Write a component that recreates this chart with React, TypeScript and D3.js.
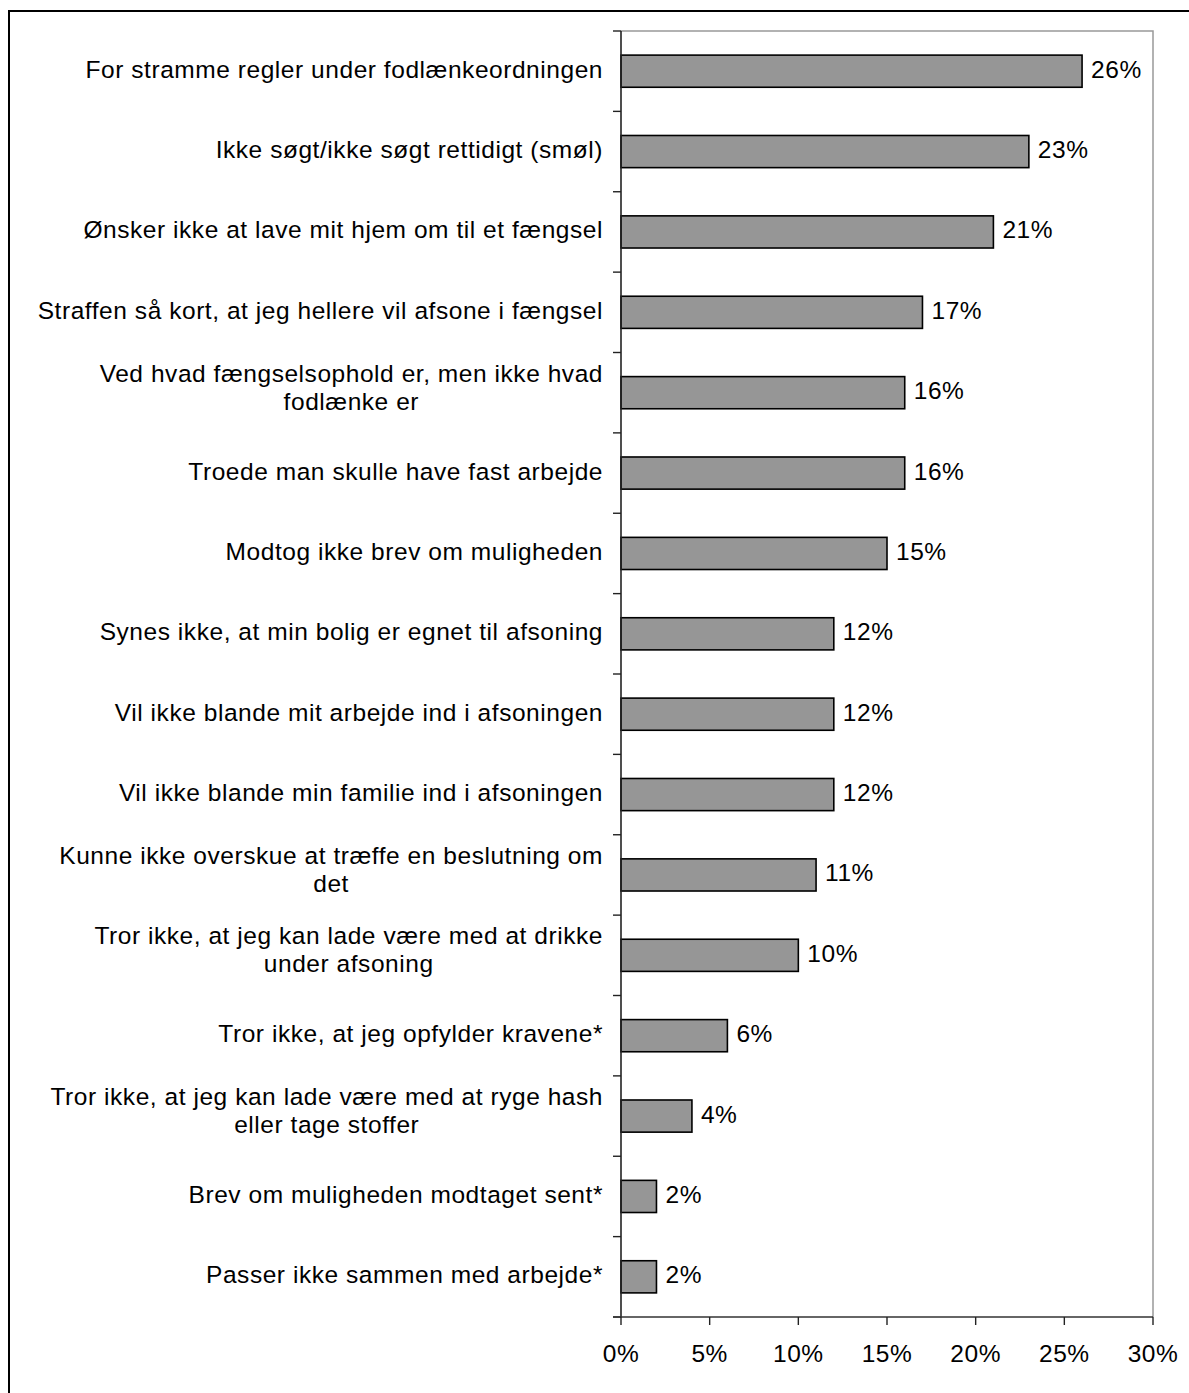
import React, { useEffect, useRef } from "react";
import * as d3 from "d3";

const categories: string[][] = [
  ["For stramme regler under fodlænkeordningen"],
  ["Ikke søgt/ikke søgt rettidigt (smøl)"],
  ["Ønsker ikke at lave mit hjem om til et fængsel"],
  ["Straffen så kort, at jeg hellere vil afsone i fængsel"],
  ["Ved hvad fængselsophold er, men ikke hvad", "fodlænke er"],
  ["Troede man skulle have fast arbejde"],
  ["Modtog ikke brev om muligheden"],
  ["Synes ikke, at min bolig er egnet til afsoning"],
  ["Vil ikke blande mit arbejde ind i afsoningen"],
  ["Vil ikke blande min familie ind i afsoningen"],
  ["Kunne ikke overskue at træffe en beslutning om", "det"],
  ["Tror ikke, at jeg kan lade være med at drikke", "under afsoning"],
  ["Tror ikke, at jeg opfylder kravene*"],
  ["Tror ikke, at jeg kan lade være med at ryge hash", "eller tage stoffer"],
  ["Brev om muligheden modtaget sent*"],
  ["Passer ikke sammen med arbejde*"],
];

const values: number[] = [26, 23, 21, 17, 16, 16, 15, 12, 12, 12, 11, 10, 6, 4, 2, 2];

const xTicks: number[] = [0, 5, 10, 15, 20, 25, 30];

const W = 1189;
const H = 1393;
const FONT = "'Liberation Sans', Arial, Helvetica, sans-serif";
const FS = 24.5;
const LS = 0.55;

export default function App() {
  const ref = useRef<SVGSVGElement | null>(null);

  useEffect(() => {
    const svg = d3.select(ref.current);
    svg.selectAll("*").remove();

    const left = 621;
    const right = 1153;
    const top = 31;
    const bottom = 1317;

    const x = d3.scaleLinear().domain([0, 30]).range([left, right]);
    const idx = categories.map((_, i) => String(i));
    const y = d3.scaleBand().domain(idx).range([top, bottom]).paddingInner(0.6).paddingOuter(0.3);
    const yb = d3.scaleBand().domain(idx).range([top, bottom]);

    svg.append("rect").attr("x", 0).attr("y", 0).attr("width", W).attr("height", H).attr("fill", "white");

    // outer frame
    svg
      .append("rect")
      .attr("x", 9)
      .attr("y", 11)
      .attr("width", W + 20)
      .attr("height", H + 20)
      .attr("fill", "none")
      .attr("stroke", "black")
      .attr("stroke-width", 2);

    // plot border (top, right)
    svg
      .append("path")
      .attr("d", `M${left},${top}H${right}V${bottom}`)
      .attr("fill", "none")
      .attr("stroke", "#999")
      .attr("stroke-width", 1.5);

    // bars
    svg
      .append("g")
      .selectAll("rect")
      .data(values)
      .join("rect")
      .attr("x", x(0))
      .attr("y", (_, i) => y(String(i)) as number)
      .attr("width", (d) => x(d) - x(0))
      .attr("height", y.bandwidth())
      .attr("fill", "#969696")
      .attr("stroke", "black")
      .attr("stroke-width", 1.6);

    // value labels
    svg
      .append("g")
      .selectAll("text")
      .data(values)
      .join("text")
      .attr("x", (d) => x(d) + 9)
      .attr("y", (_, i) => (yb(String(i)) as number) + yb.bandwidth() / 2 + 6.5)
      .attr("font-family", FONT)
      .attr("font-size", FS)
      .attr("letter-spacing", LS)
      .attr("fill", "black")
      .text((d) => `${d}%`);

    // y axis line + ticks
    svg
      .append("line")
      .attr("x1", left)
      .attr("x2", left)
      .attr("y1", top)
      .attr("y2", bottom)
      .attr("stroke", "#222")
      .attr("stroke-width", 1.6);
    const yTickPos = idx.map((k) => yb(k) as number).concat([bottom]);
    svg
      .append("g")
      .selectAll("line")
      .data(yTickPos)
      .join("line")
      .attr("x1", left - 8)
      .attr("x2", left)
      .attr("y1", (d) => d)
      .attr("y2", (d) => d)
      .attr("stroke", "#222")
      .attr("stroke-width", 1.4);

    // x axis
    svg
      .append("line")
      .attr("x1", left - 8)
      .attr("x2", right)
      .attr("y1", bottom)
      .attr("y2", bottom)
      .attr("stroke", "#333")
      .attr("stroke-width", 1.6);
    svg
      .append("g")
      .selectAll("line")
      .data(xTicks)
      .join("line")
      .attr("x1", (d) => x(d))
      .attr("x2", (d) => x(d))
      .attr("y1", bottom)
      .attr("y2", bottom + 8)
      .attr("stroke", "#222")
      .attr("stroke-width", 1.4);
    svg
      .append("g")
      .selectAll("text")
      .data(xTicks)
      .join("text")
      .attr("x", (d) => x(d))
      .attr("y", bottom + 45)
      .attr("text-anchor", "middle")
      .attr("font-family", FONT)
      .attr("font-size", FS)
      .attr("letter-spacing", LS)
      .attr("fill", "black")
      .text((d) => `${d}%`);

    // category labels
    const labelRight = 603;
    const lh = 28;
    categories.forEach((lines, i) => {
      const c = (yb(String(i)) as number) + yb.bandwidth() / 2;
      const g = svg.append("g");
      const texts = lines.map((ln, j) => {
        const base = lines.length === 1 ? c + 6.5 : c - 11 + j * lh;
        return g
          .append("text")
          .attr("y", base)
          .attr("font-family", FONT)
          .attr("font-size", FS)
          .attr("letter-spacing", LS)
          .attr("fill", "black")
          .text(ln);
      });
      const widths = texts.map((t) => (t.node() as SVGTextElement).getComputedTextLength());
      const maxW = Math.max(...widths);
      const cx = labelRight - maxW / 2;
      texts.forEach((t) => t.attr("x", cx).attr("text-anchor", "middle"));
    });
  }, []);

  return (
    <svg
      ref={ref}
      width={W}
      height={H}
      style={{ position: "absolute", left: 0, top: 0, display: "block" }}
    />
  );
}
